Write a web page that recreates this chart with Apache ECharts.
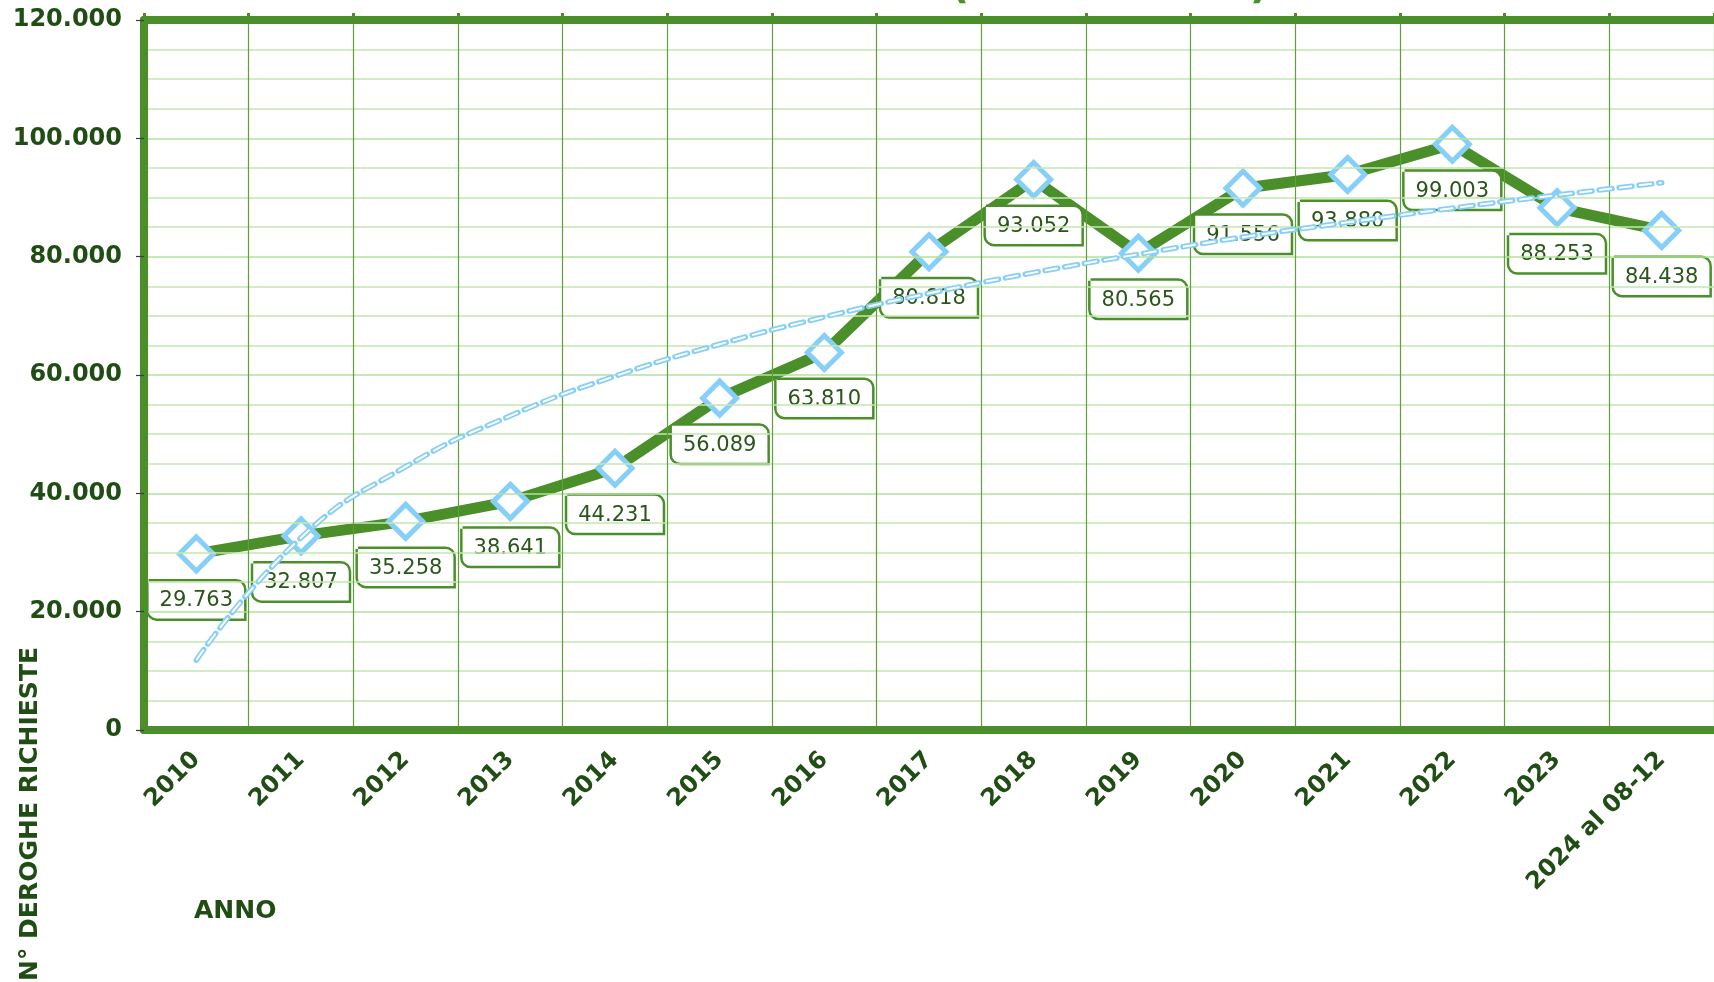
<!DOCTYPE html>
<html>
<head>
<meta charset="utf-8">
<script src="https://cdn.jsdelivr.net/npm/echarts@6/dist/echarts.min.js"></script>
<style>
html,body{margin:0;padding:0;background:#fff;}
#chart{width:1714px;height:982px;}
</style>
</head>
<body>
<div id="chart"></div>
<script>
const categories = ['2010','2011','2012','2013','2014','2015','2016','2017','2018','2019','2020','2021','2022','2023','2024 al 08-12'];
const deroghe = [29763, 32807, 35258, 38641, 44231, 56089, 63810, 80818, 93052, 80565, 91556, 93880, 99003, 88253, 84438];
const trend = [11800, 32500, 44500, 53100, 59800, 65200, 69800, 73800, 77300, 80400, 83300, 85800, 88200, 90400, 92500];
const yTicks = [0, 20000, 40000, 60000, 80000, 100000, 120000];

const GREEN = '#4a8f29';
const DARK = '#1f4d14';
const BLUE = '#86cff8';
const FONT = 'DejaVu Sans';

function itNum(v){
  return String(Math.round(v)).replace(/\B(?=(\d{3})+(?!\d))/g, '.');
}

const chart = echarts.init(document.getElementById('chart'), null, {renderer:'canvas'});
chart.setOption({
  animation:false,
  backgroundColor:'#ffffff',
  title:{
    text:'DEROGHE RICHIESTE (2010 - 2024)',
    left:'center',
    top:-39,
    textStyle:{color:GREEN, fontFamily:FONT, fontWeight:'bold', fontSize:42}
  },
  grid:{left:144, right:-5, top:20, bottom:252, containLabel:false},
  xAxis:[{
    type:'category',
    data:categories,
    position:'bottom',
    boundaryGap:true,
    z:3,
    axisLine:{show:true, lineStyle:{color:GREEN, width:8}},
    axisTick:{show:false},
    axisLabel:{rotate:45, margin:26, color:DARK, fontFamily:FONT, fontWeight:'bold', fontSize:24, interval:0},
    splitLine:{show:true, lineStyle:{color:'#5ea03a', width:1.2}}
  },{
    type:'category',
    data:categories,
    position:'top',
    boundaryGap:true,
    z:3,
    axisLine:{show:true, lineStyle:{color:GREEN, width:8}},
    axisTick:{show:true, inside:false, length:7, lineStyle:{color:GREEN, width:3}},
    axisLabel:{show:false},
    splitLine:{show:false}
  }],
  yAxis:{
    type:'value',
    min:0, max:120000, interval:20000,
    z:3,
    axisLine:{show:true, lineStyle:{color:GREEN, width:8}},
    axisTick:{show:true, length:8, lineStyle:{color:'#3a3a3a', width:1.2}},
    axisLabel:{
      margin:22, color:DARK, fontFamily:FONT, fontWeight:'bold', fontSize:24,
      formatter:function(v){ return yTicks.indexOf(v) >= 0 ? itNum(v) : ''; }
    },
    splitLine:{show:true, lineStyle:{color:'#b3e09b', width:1.5}},
    minorTick:{show:false, splitNumber:4},
    minorSplitLine:{show:true, lineStyle:{color:'#c3e8b0', width:1.5}}
  },
  graphic:[
    {type:'text', x:30, y:814, rotation:Math.PI/2,
     style:{text:'N° DEROGHE RICHIESTE', fill:DARK, font:'bold 25px "DejaVu Sans"', align:'center', verticalAlign:'middle'}},
    {type:'text', left:194, top:899,
     style:{text:'ANNO', fill:DARK, font:'bold 25px "DejaVu Sans"'}}
  ],
  series:[{
    type:'line',
    name:'Deroghe',
    data:deroghe,
    z:2,
    symbol:'diamond',
    symbolSize:34,
    itemStyle:{color:'#ffffff', borderColor:BLUE, borderWidth:5},
    lineStyle:{color:GREEN, width:11},
    label:{
      show:true, position:'bottom', distance:8,
      formatter:function(p){ return itNum(p.value); },
      color:'#2a561a', fontFamily:FONT, fontSize:21,
      backgroundColor:'#ffffff', borderColor:GREEN, borderWidth:2.5,
      borderRadius:[0,8,0,8], padding:[9,11,7,11]
    }
  },{
    type:'line',
    name:'Tendenza',
    data:trend,
    z:5,
    smooth:true,
    symbol:'none',
    silent:true,
    lineStyle:{color:BLUE, width:5.5, type:[13,7], cap:'round'}
  },{
    type:'line',
    name:'Tendenza2',
    data:trend,
    z:6,
    smooth:true,
    symbol:'none',
    silent:true,
    lineStyle:{color:'#ffffff', width:2, type:[13,7]}
  }]
});
</script>
</body>
</html>
